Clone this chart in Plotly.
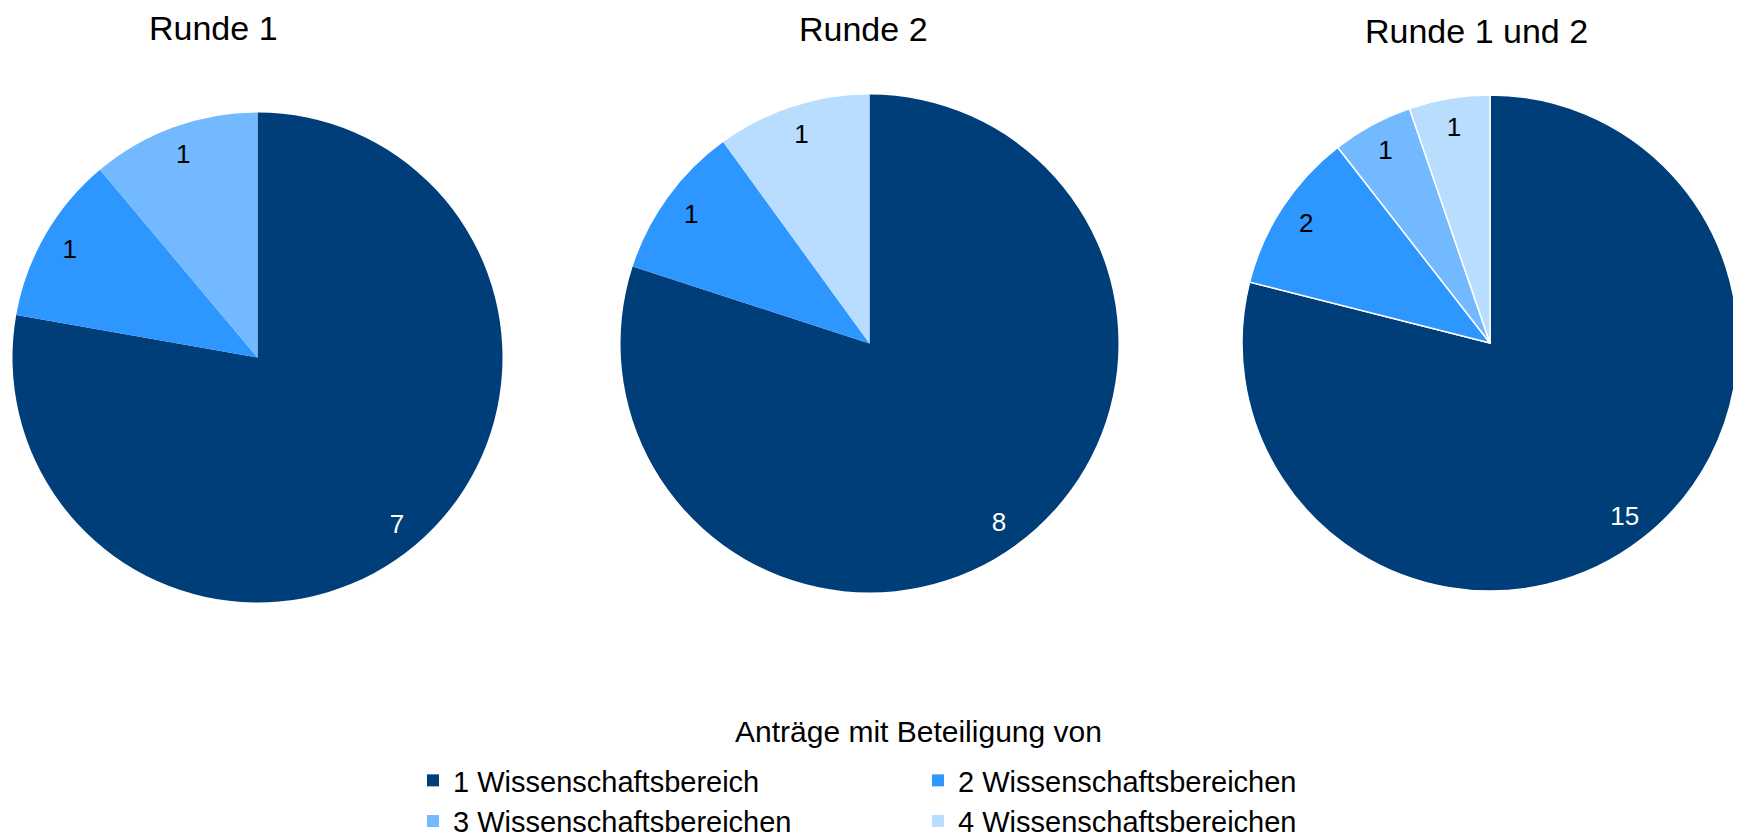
import plotly.graph_objects as go

W, H = 1741, 837

titles = ["Runde 1", "Runde 2", "Runde 1 und 2"]
labels_all = ["1 Wissenschaftsbereich", "2 Wissenschaftsbereichen",
              "3 Wissenschaftsbereichen", "4 Wissenschaftsbereichen"]
colors_all = ["#003E7A", "#2E96FF", "#72B9FF", "#B9DDFF"]

runde1_labels = ["1 Wissenschaftsbereich", "2 Wissenschaftsbereichen", "3 Wissenschaftsbereichen"]
runde1_values = [7, 1, 1]
runde2_labels = ["1 Wissenschaftsbereich", "2 Wissenschaftsbereichen", "4 Wissenschaftsbereichen"]
runde2_values = [8, 1, 1]
gesamt_labels = labels_all
gesamt_values = [15, 2, 1, 1]

legend_title = "Anträge mit Beteiligung von"

FONT = "Liberation Sans, Arial, sans-serif"

OFF = 8  # page body margin offset
geoms = [(257.5 - OFF, 357.5 - OFF, 245), (869.5 - OFF, 343.5 - OFF, 249), (1490 - OFF, 343 - OFF, 248)]
title_pos = [(213 - OFF, 28 - OFF), (863 - OFF, 29 - OFF), (1476 - OFF, 31 - OFF)]

datasets = [(runde1_labels, runde1_values, 0),
            (runde2_labels, runde2_values, 0),
            (gesamt_labels, gesamt_values, 1.5)]

fig = go.Figure()
cmap = dict(zip(labels_all, colors_all))
for (labs, vals, lw), (cx, cy, r) in zip(datasets, geoms):
    dom = dict(x=[(cx - r) / W, (cx + r) / W],
               y=[(H - cy - r) / H, (H - cy + r) / H])
    cols = [cmap[l] for l in labs]
    fig.add_trace(go.Pie(
        labels=labs, values=vals, domain=dom, sort=False,
        direction="clockwise", rotation=0, textinfo="none",
        marker=dict(colors=cols, line=dict(color="white", width=lw)),
        showlegend=True, hoverinfo="label+value"))
    # transparent ring overlay to place value labels near the outer edge
    fig.add_trace(go.Pie(
        labels=labs, values=vals, domain=dom, sort=False, hole=0.77,
        direction="clockwise", rotation=0, textinfo="value",
        textposition="inside", insidetextorientation="horizontal",
        textfont=dict(family=FONT, size=26,
                      color=["white" if l == labels_all[0] else "black" for l in labs]),
        marker=dict(colors=["rgba(0,0,0,0)"] * len(labs), line=dict(width=0)),
        showlegend=False, hoverinfo="skip"))

annotations = []
for t, (px, py) in zip(titles, title_pos):
    annotations.append(dict(text=t, x=px / W, y=1 - py / H, xref="paper", yref="paper",
                            xanchor="center", yanchor="middle", showarrow=False,
                            font=dict(family=FONT, size=34, color="black")))
annotations.append(dict(text=legend_title, x=(918 - OFF) / W, y=1 - (731 - OFF) / H,
                        xref="paper", yref="paper",
                        xanchor="center", yanchor="middle", showarrow=False,
                        font=dict(family=FONT, size=30, color="black")))

BW = 250  # transparent legend border, used to wrap the legend into two columns
fig.update_layout(
    width=W, height=H,
    margin=dict(l=0, r=0, t=0, b=0, autoexpand=False),
    paper_bgcolor="white", plot_bgcolor="white",
    annotations=annotations,
    legend=dict(orientation="h", x=(405 - BW) / W, xanchor="left",
                y=1 - (747 - BW) / H, yanchor="top",
                entrywidth=460, entrywidthmode="pixels", maxheight=1,
                borderwidth=BW, bordercolor="rgba(0,0,0,0)", bgcolor="rgba(0,0,0,0)",
                font=dict(family=FONT, size=29, color="black"),
                traceorder="normal", itemclick=False, itemdoubleclick=False),
)

fig.write_html("out.html")
